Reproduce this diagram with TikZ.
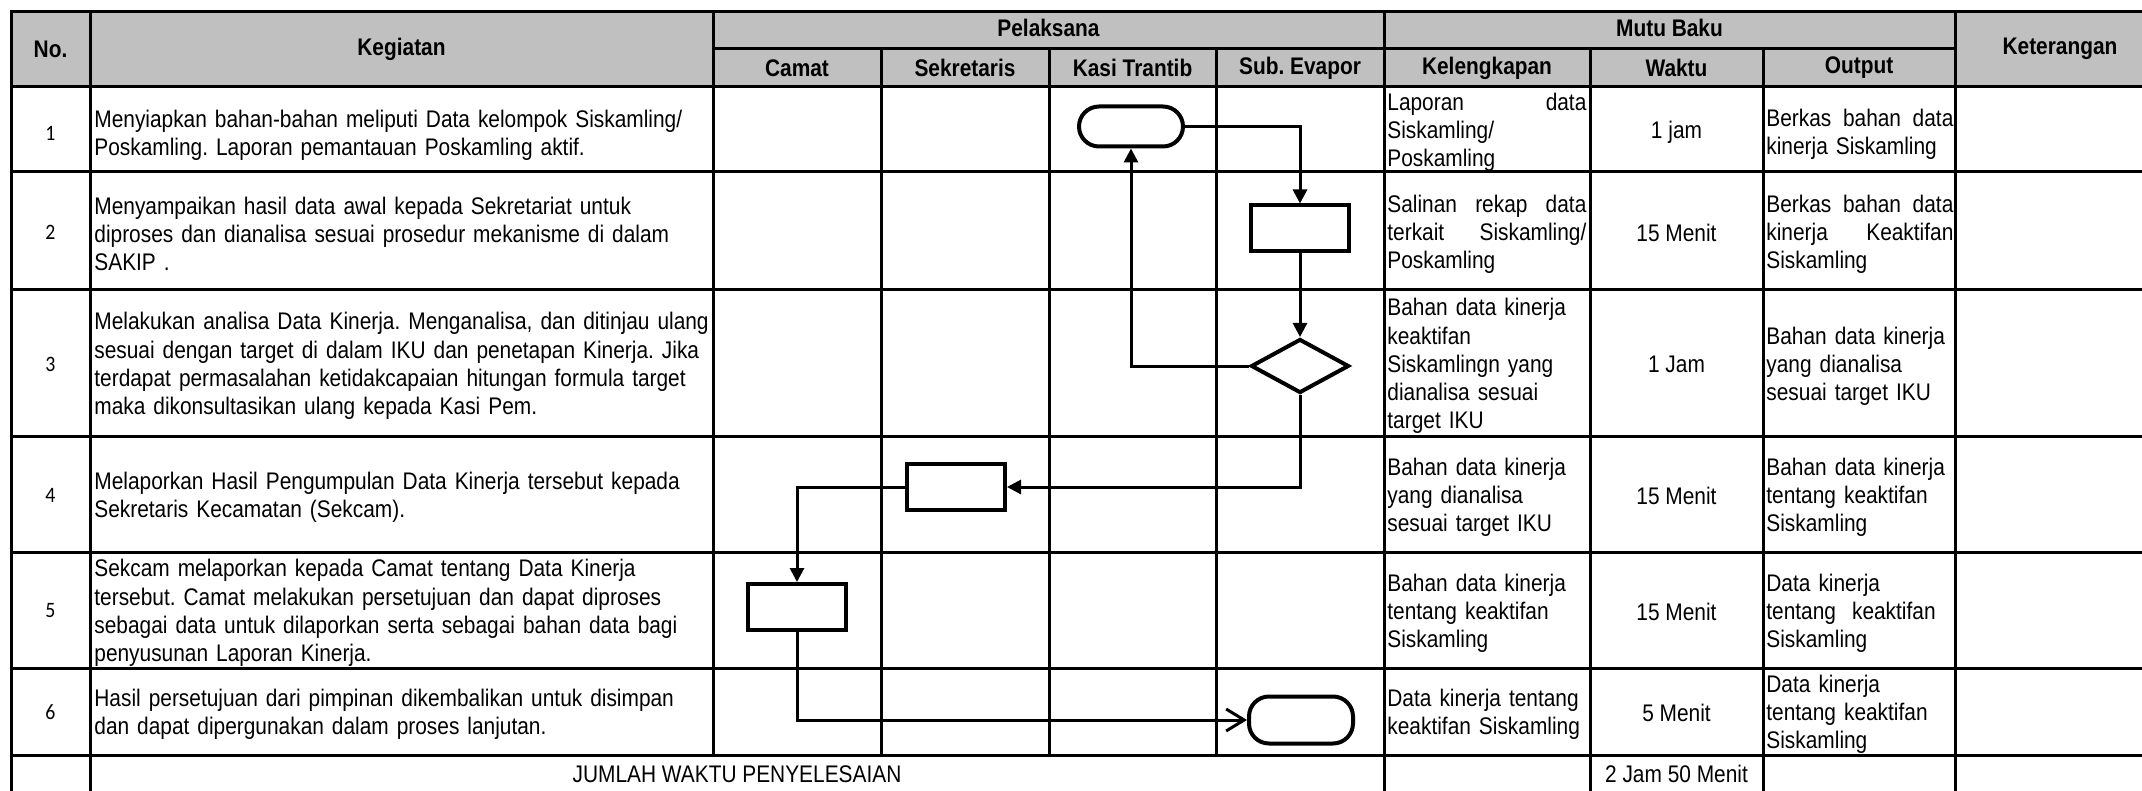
\documentclass[tikz,border=0pt]{standalone}
\usepackage{fontspec}
\setmainfont{Liberation Sans}[FakeStretch=0.87]
\newfontfamily\numfont{Carlito}[FakeStretch=0.9]
\usetikzlibrary{arrows.meta,shapes.geometric}
\definecolor{hdrgray}{RGB}{192,192,192}
\newcommand{\jfill}[2]{\leavevmode\hbox to #1{#2}}
\frenchspacing
\begin{document}
\begin{tikzpicture}[x=0.5pt,y=-0.5pt,
  grid/.style={line width=1.5pt,line cap=rect},
  hdr/.style={font=\bfseries\fontsize{12}{14}\selectfont,inner sep=0},
  num/.style={font=\numfont\fontsize{11}{13}\selectfont,inner sep=0},
  keg/.style={font=\frenchspacing\fontsize{12}{14.1}\selectfont,inner sep=0,anchor=west,align=left,text width=330pt},
  kel/.style={font=\frenchspacing\fontsize{12}{14.1}\selectfont,inner sep=0,anchor=west,align=left,text width=99.5pt},
  outp/.style={font=\frenchspacing\fontsize{12}{14.1}\selectfont,inner sep=0,anchor=west,align=left,text width=93.5pt},
  wkt/.style={font=\fontsize{12}{14.1}\selectfont,inner sep=0},
  proc/.style={draw,line width=2pt,minimum width=49pt,minimum height=23pt,inner sep=0},
  term/.style={draw,line width=2pt,rounded corners=10pt,minimum width=52pt,minimum height=20pt,inner sep=0},
  decis/.style={diamond,draw,line width=2pt,minimum width=49pt,minimum height=27pt,inner sep=0},
  conn/.style={line width=1.5pt,-{Triangle[length=7pt,width=7pt]}},
  connopen/.style={line width=1.5pt,-{Straight Barb[length=9pt,width=11pt]}}
]
\useasboundingbox (0,0) rectangle (2142,791);
\clip (0,0) rectangle (2142,791);
% header fill
\fill[hdrgray] (11,12) rectangle (2170,87);
% horizontal lines
\draw[grid] (11,12) -- (2170,12);
\draw[grid] (713,49) -- (1955,49);
\foreach \y in {87,172,290,436,552,668,755} \draw[grid] (11,\y) -- (2170,\y);
% vertical lines
\draw[grid] (11,12) -- (11,800);
\draw[grid] (90,12) -- (90,800);
\draw[grid] (713,12) -- (713,755);
\foreach \x in {881,1049,1216} \draw[grid] (\x,49) -- (\x,755);
\draw[grid] (1384,12) -- (1384,800);
\draw[grid] (1590,49) -- (1590,800);
\draw[grid] (1763,49) -- (1763,800);
\draw[grid] (1955,12) -- (1955,800);
% headers
\node[hdr] (hno) at (50.5,49) {No.};
\node[hdr] (hkeg) at (401.5,49) {Kegiatan};
\node[hdr] (hpel) at (1048.5,28) {Pelaksana};
\node[hdr] (hcam) at (797,68) {Camat};
\node[hdr] (hsek) at (965,68) {Sekretaris};
\node[hdr] (hkas) at (1132.5,68) {Kasi Trantib};
\node[hdr] (hsub) at (1300,68) {Sub. Evapor};
\node[hdr] (hmutu) at (1669.5,28) {Mutu Baku};
\node[hdr] (hkel) at (1487,68) {Kelengkapan};
\node[hdr] (hwkt) at (1676.5,68) {Waktu};
\node[hdr] (hout) at (1859,68) {Output};
\node[hdr] (hket) at (2060,49) {Keterangan};
% numbers
\node[num] (n1) at (50.5,133) {1};
\node[num] (n2) at (50.5,232) {2};
\node[num] (n3) at (50.5,364) {3};
\node[num] (n4) at (50.5,495) {4};
\node[num] (n5) at (50.5,611) {5};
\node[num] (n6) at (50.5,712.5) {6};
% kegiatan
\node[keg] (k1) at (94,135) {Menyiapkan bahan-bahan meliputi Data kelompok Siskamling/\\Poskamling. Laporan pemantauan Poskamling aktif.};
\node[keg] (k2) at (94,234) {Menyampaikan hasil data awal kepada Sekretariat untuk\\diproses dan dianalisa sesuai prosedur mekanisme di dalam\\SAKIP .};
\node[keg] (k3) at (94,366) {Melakukan analisa Data Kinerja. Menganalisa, dan ditinjau ulang\\sesuai dengan target di dalam IKU dan penetapan Kinerja. Jika\\terdapat permasalahan ketidakcapaian hitungan formula target\\maka dikonsultasikan ulang kepada Kasi Pem.};
\node[keg] (k4) at (94,497) {Melaporkan Hasil Pengumpulan Data Kinerja tersebut kepada\\Sekretaris Kecamatan (Sekcam).};
\node[keg] (k5) at (94,613) {Sekcam melaporkan kepada Camat tentang Data Kinerja\\tersebut. Camat melakukan persetujuan dan dapat diproses\\sebagai data untuk dilaporkan serta sebagai bahan data bagi\\penyusunan Laporan Kinerja.};
\node[keg] (k6) at (94,714.5) {Hasil persetujuan dari pimpinan dikembalikan untuk disimpan\\dan dapat dipergunakan dalam proses lanjutan.};
% kelengkapan
\node[kel] (c1) at (1387,132) {\jfill{99.5pt}{Laporan\hfill data}\\Siskamling/\\Poskamling};
\node[kel] (c2) at (1387,234) {\jfill{99.5pt}{Salinan\hfill rekap\hfill data}\\\jfill{99.5pt}{terkait\hfill Siskamling/}\\Poskamling};
\node[kel] (c3) at (1387,366) {Bahan data kinerja\\keaktifan\\Siskamlingn yang\\dianalisa sesuai\\target IKU};
\node[kel] (c4) at (1387,497) {Bahan data kinerja\\yang dianalisa\\sesuai target IKU};
\node[kel] (c5) at (1387,613) {Bahan data kinerja\\tentang keaktifan\\Siskamling};
\node[kel] (c6) at (1387,714.5) {Data kinerja tentang\\keaktifan Siskamling};
% waktu
\node[wkt] (w1) at (1676.5,132.5) {1 jam};
\node[wkt] (w2) at (1676.5,232.5) {15 Menit};
\node[wkt] (w3) at (1676.5,364.5) {1 Jam};
\node[wkt] (w4) at (1676.5,495.5) {15 Menit};
\node[wkt] (w5) at (1676.5,611.5) {15 Menit};
\node[wkt] (w6) at (1676.5,713) {5 Menit};
\node[wkt] (wt) at (1676.5,774) {2 Jam 50 Menit};
\node[wkt] (jml) at (737,774) {JUMLAH WAKTU PENYELESAIAN};
% output
\node[outp] (o1) at (1766,134) {\jfill{93.5pt}{Berkas\hfill bahan\hfill data}\\kinerja Siskamling};
\node[outp] (o2) at (1766,234) {\jfill{93.5pt}{Berkas\hfill bahan\hfill data}\\\jfill{93.5pt}{kinerja\hfill Keaktifan}\\Siskamling};
\node[outp] (o3) at (1766,366) {Bahan data kinerja\\yang dianalisa\\sesuai target IKU};
\node[outp] (o4) at (1766,497) {Bahan data kinerja\\tentang keaktifan\\Siskamling};
\node[outp] (o5) at (1766,613) {Data kinerja\\tentang~ keaktifan\\Siskamling};
\node[outp] (o6) at (1766,714.5) {Data kinerja\\tentang keaktifan\\Siskamling};
% flow shapes
\node[term] (t1) at (1131,126.5) {};
\node[proc] (p2) at (1300,228.5) {};
\node[decis] (d3) at (1300,366) {};
\node[proc] (p4) at (956,487) {};
\node[proc] (p5) at (797,607) {};
\node[term,minimum height=23.5pt,minimum width=52pt] (t6) at (1301,720) {};
% connectors
\draw[conn] (t1.east) -| (p2.north);
\draw[conn] (p2.south) -- (d3.north);
\draw[conn] (d3.west) -| (t1.south);
\draw[conn] (d3.south) |- (p4.east);
\draw[conn] (p4.west) -| (p5.north);
\draw[connopen] (p5.south) |- (t6.west);
\end{tikzpicture}
\end{document}
